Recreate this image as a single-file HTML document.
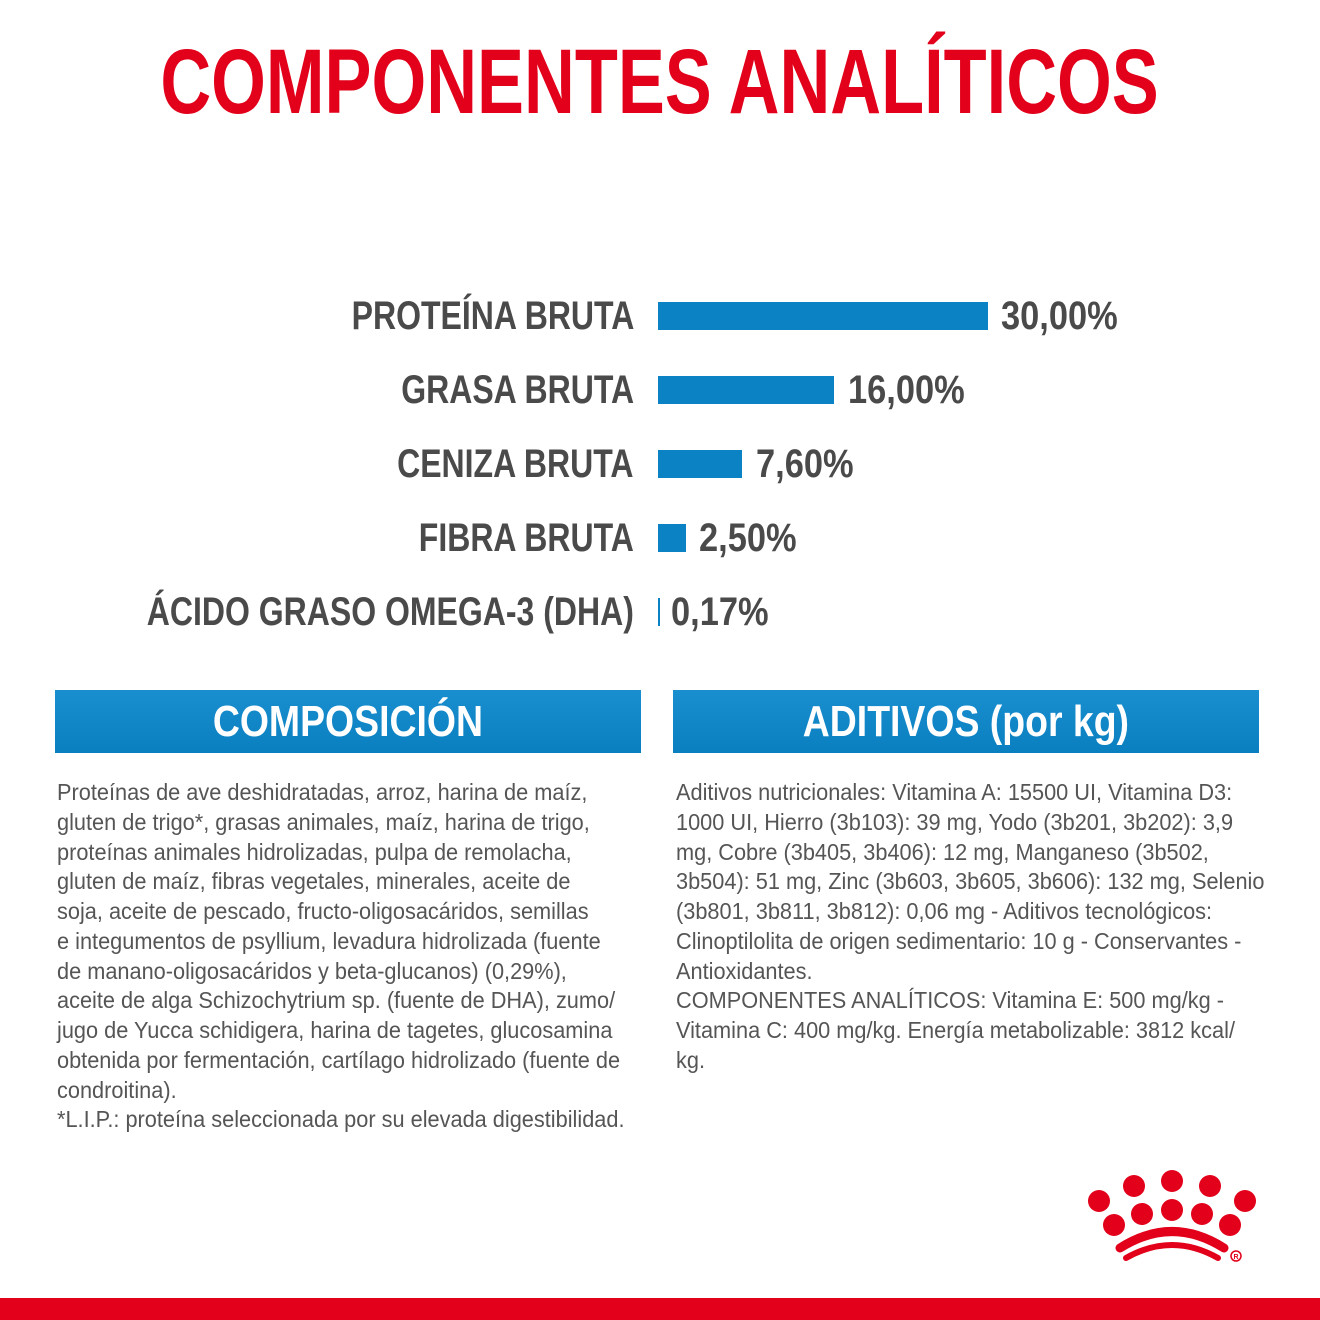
<!DOCTYPE html>
<html><head><meta charset="utf-8"><style>
body{margin:0;width:1320px;height:1320px;background:#fff;position:relative;overflow:hidden;font-family:"Liberation Sans",sans-serif}
.t{position:absolute;left:0;width:1320px;top:32px;text-align:center;color:#e2001a;font-weight:bold;font-size:92px;white-space:nowrap;line-height:100px}
.t span{display:inline-block;transform:scaleX(0.765);transform-origin:center}
.lab{position:absolute;right:686px;font-weight:bold;font-size:40px;color:#4a4a4a;white-space:nowrap;line-height:40px;transform:scaleX(0.8);transform-origin:right center}
.bar{position:absolute;left:658px;height:28px;background:#0a82c3}
.val{position:absolute;font-weight:bold;font-size:40px;color:#4a4a4a;line-height:40px;transform:scaleX(0.86);transform-origin:left center;white-space:nowrap}
.hd{position:absolute;top:690px;height:63px;background:linear-gradient(#1a8fd0,#0a7fc0);color:#fff;font-weight:bold;font-size:44px;text-align:center;line-height:64px}
.hd span{display:inline-block;transform:scaleX(0.85)}
.tx{position:absolute;top:778px;font-size:23px;line-height:29.75px;color:#555;white-space:nowrap;transform:scaleX(0.945);transform-origin:left top}
</style></head><body>
<div class="t"><span>COMPONENTES ANALÍTICOS</span></div>
<div class="lab" style="top:296px">PROTEÍNA BRUTA</div><div class="bar" style="top:302px;width:330px"></div><div class="val" style="left:1001px;top:296px">30,00%</div>
<div class="lab" style="top:370px">GRASA BRUTA</div><div class="bar" style="top:376px;width:176px"></div><div class="val" style="left:848px;top:370px">16,00%</div>
<div class="lab" style="top:444px">CENIZA BRUTA</div><div class="bar" style="top:450px;width:84px"></div><div class="val" style="left:756px;top:444px">7,60%</div>
<div class="lab" style="top:518px">FIBRA BRUTA</div><div class="bar" style="top:524px;width:28px"></div><div class="val" style="left:699px;top:518px">2,50%</div>
<div class="lab" style="top:592px">ÁCIDO GRASO OMEGA-3 (DHA)</div><div class="bar" style="top:598px;width:2px"></div><div class="val" style="left:671px;top:592px">0,17%</div>
<div class="hd" style="left:55px;width:586px"><span>COMPOSICIÓN</span></div>
<div class="hd" style="left:673px;width:586px"><span>ADITIVOS (por kg)</span></div>
<div class="tx" style="left:57px">Proteínas de ave deshidratadas, arroz, harina de maíz,<br>gluten de trigo*, grasas animales, maíz, harina de trigo,<br>proteínas animales hidrolizadas, pulpa de remolacha,<br>gluten de maíz, fibras vegetales, minerales, aceite de<br>soja, aceite de pescado, fructo-oligosacáridos, semillas<br>e integumentos de psyllium, levadura hidrolizada (fuente<br>de manano-oligosacáridos y beta-glucanos) (0,29%),<br>aceite de alga Schizochytrium sp. (fuente de DHA), zumo/<br>jugo de Yucca schidigera, harina de tagetes, glucosamina<br>obtenida por fermentación, cartílago hidrolizado (fuente de<br>condroitina).<br>*L.I.P.: proteína seleccionada por su elevada digestibilidad.</div>
<div class="tx" style="left:676px">Aditivos nutricionales: Vitamina A: 15500 UI, Vitamina D3:<br>1000 UI, Hierro (3b103): 39 mg, Yodo (3b201, 3b202): 3,9<br>mg, Cobre (3b405, 3b406): 12 mg, Manganeso (3b502,<br>3b504): 51 mg, Zinc (3b603, 3b605, 3b606): 132 mg, Selenio<br>(3b801, 3b811, 3b812): 0,06 mg - Aditivos tecnológicos:<br>Clinoptilolita de origen sedimentario: 10 g - Conservantes -<br>Antioxidantes.<br>COMPONENTES ANALÍTICOS: Vitamina E: 500 mg/kg -<br>Vitamina C: 400 mg/kg. Energía metabolizable: 3812 kcal/<br>kg.</div>
<svg style="position:absolute;left:1080px;top:1160px" width="240" height="120" viewBox="0 0 240 120" fill="#e2001a">
<circle cx="19" cy="41" r="11"/><circle cx="54" cy="26" r="11"/><circle cx="92" cy="21" r="11"/><circle cx="130" cy="26" r="11"/><circle cx="165" cy="41" r="11"/>
<circle cx="34" cy="65" r="11"/><circle cx="62" cy="54" r="11"/><circle cx="92" cy="50" r="11"/><circle cx="122" cy="54" r="11"/><circle cx="150" cy="65" r="11"/>
<path d="M40 88 Q92 55 144 88" stroke="#e2001a" stroke-width="9" fill="none" stroke-linecap="round"/>
<path d="M46 98 Q92 72 138 98" stroke="#e2001a" stroke-width="6" fill="none" stroke-linecap="round"/>
<circle cx="156" cy="96" r="5" fill="none" stroke="#e2001a" stroke-width="1.5"/><text x="156" y="99" font-size="7" text-anchor="middle" font-family="Liberation Sans" font-weight="bold">R</text>
</svg>
<div style="position:absolute;left:0;top:1298px;width:1320px;height:22px;background:#e2001a"></div>
</body></html>
